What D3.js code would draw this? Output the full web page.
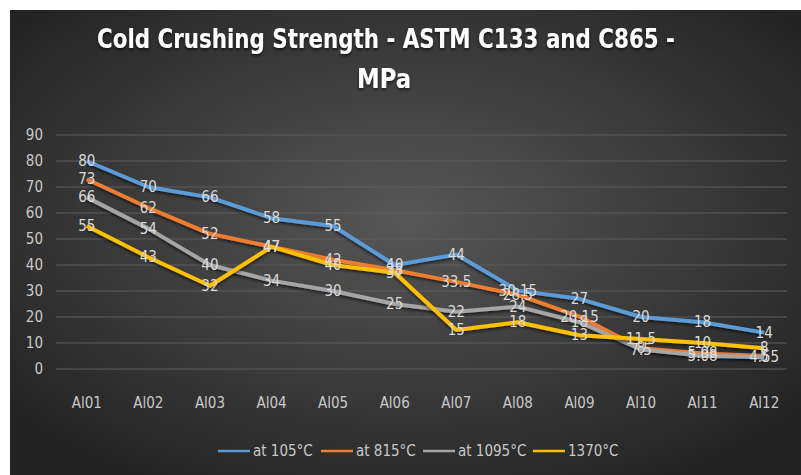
<!DOCTYPE html>
<html>
<head>
<meta charset="utf-8">
<script src="https://cdn.jsdelivr.net/npm/d3@7"></script>
<style>
  body { margin: 0; background: #fff; }
  text { font-family: 'Liberation Sans Narrow', 'DejaVu Sans Condensed', 'Roboto', sans-serif; }
</style>
</head>
<body>
<div id="chart"></div>
<script>
// Data
const categories = ['Al01', 'Al02', 'Al03', 'Al04', 'Al05', 'Al06', 'Al07', 'Al08', 'Al09', 'Al10', 'Al11', 'Al12'];
const at105 = [80, 70, 66, 58, 55, 40, 44, 30.15, 27, 20, 18, 14];
const at815 = [73, 62, 52, 47, 42, 38, 33.5, 28.5, 20.15, 8, 5.98, 5];
const at1095 = [66, 54, 40, 34, 30, 25, 22, 24, 18, 7.5, 5.08, 4.55];
const at1370 = [55, 43, 32, 47, 40, 37, 15, 18, 13, 11.5, 10, 8];
const seriesNames = ['at 105°C', 'at 815°C', 'at 1095°C', '1370°C'];
const yTicks = [0, 10, 20, 30, 40, 50, 60, 70, 80, 90];

const colors = ['#5b9bd5', '#ed7d31', '#a5a5a5', '#ffc000'];
const series = [at105, at815, at1095, at1370].map((values, i) => ({
  name: seriesNames[i],
  color: colors[i],
  values,
}));

const dimensions = { width: 801, height: 475 };
const plot = { left: 56, right: 795, top: 135, bottom: 369 };

const svg = d3
  .select('#chart')
  .append('svg')
  .attr('width', dimensions.width)
  .attr('height', dimensions.height);

const defs = svg.append('defs');
const grad = defs
  .append('radialGradient')
  .attr('id', 'bg')
  .attr('cx', '50%')
  .attr('cy', '45%')
  .attr('r', '65%');
grad.append('stop').attr('offset', '0%').attr('stop-color', '#575757');
grad.append('stop').attr('offset', '100%').attr('stop-color', '#232323');

const shadow = defs.append('filter').attr('id', 'shadow').attr('x', '-10%').attr('y', '-10%').attr('width', '120%').attr('height', '140%');
shadow.append('feDropShadow').attr('dx', 0).attr('dy', 2).attr('stdDeviation', 1.5).attr('flood-color', '#000').attr('flood-opacity', 0.6);

svg
  .append('rect')
  .attr('x', 10)
  .attr('y', 10)
  .attr('width', dimensions.width - 10)
  .attr('height', dimensions.height - 10)
  .attr('fill', 'url(#bg)');

// Title
const title = svg.append('text').attr('text-anchor', 'middle').attr('fill', '#fff').attr('font-weight', 'bold').attr('font-size', 27).attr('filter', 'url(#shadow)');
title
  .append('tspan')
  .attr('x', 386)
  .attr('y', 48)
  .attr('textLength', 578)
  .attr('lengthAdjust', 'spacingAndGlyphs')
  .text('Cold Crushing Strength - ASTM C133 and C865 -');
title
  .append('tspan')
  .attr('x', 384)
  .attr('y', 88)
  .attr('textLength', 54)
  .attr('lengthAdjust', 'spacingAndGlyphs')
  .text('MPa');

// Scales
const xScale = d3.scaleBand().domain(categories).range([plot.left, plot.right]);
const yScale = d3.scaleLinear().domain([0, 90]).range([plot.bottom, plot.top]);

// Grid
svg
  .append('g')
  .selectAll('line')
  .data(yTicks)
  .join('line')
  .attr('x1', plot.left)
  .attr('x2', plot.right - 8)
  .attr('y1', (d) => yScale(d))
  .attr('y2', (d) => yScale(d))
  .attr('stroke', '#5e5e5e')
  .attr('stroke-width', 1);

// Axes
const yAxis = d3.axisLeft(yScale).tickValues(yTicks).tickSize(0).tickPadding(10);
const yAxisGroup = svg.append('g').attr('transform', `translate(${plot.left - 3}, 0)`).call(yAxis);
yAxisGroup.select('.domain').remove();
yAxisGroup.selectAll('text').attr('fill', '#c8c8c8').attr('font-size', 15).style('font-family', null);

const xAxis = d3.axisBottom(xScale).tickSize(0).tickPadding(0);
const xAxisGroup = svg.append('g').attr('transform', `translate(0, 397)`).call(xAxis);
xAxisGroup.select('.domain').remove();
xAxisGroup.selectAll('text').attr('fill', '#c8c8c8').attr('font-size', 15).style('font-family', null);

// Lines
const line = d3
  .line()
  .x((d, i) => xScale(categories[i]) + xScale.bandwidth() / 2)
  .y((d) => yScale(d));

svg
  .append('g')
  .selectAll('path')
  .data(series)
  .join('path')
  .attr('d', (d) => line(d.values))
  .attr('fill', 'none')
  .attr('stroke', (d) => d.color)
  .attr('stroke-width', 4)
  .attr('stroke-linejoin', 'round')
  .attr('filter', 'url(#shadow)');

// Data labels
svg
  .append('g')
  .selectAll('g')
  .data(series)
  .join('g')
  .selectAll('text')
  .data((d) => d.values)
  .join('text')
  .attr('x', (d, i) => xScale(categories[i]) + xScale.bandwidth() / 2)
  .attr('y', (d) => yScale(d) + 5)
  .attr('text-anchor', 'middle')
  .attr('fill', '#d9d9d9')
  .attr('font-size', 15)
  .text((d) => d);

// Legend
const legendX = [218, 321, 423, 533];
const legend = svg
  .append('g')
  .selectAll('g')
  .data(series)
  .join('g')
  .attr('transform', (d, i) => `translate(${legendX[i]}, 451)`);
legend.append('line').attr('x1', 0).attr('x2', 32).attr('stroke', (d) => d.color).attr('stroke-width', 2.5);
legend
  .append('text')
  .attr('x', 35)
  .attr('y', 5)
  .attr('fill', '#c8c8c8')
  .attr('font-size', 15)
  .text((d) => d.name);
</script>
</body>
</html>
